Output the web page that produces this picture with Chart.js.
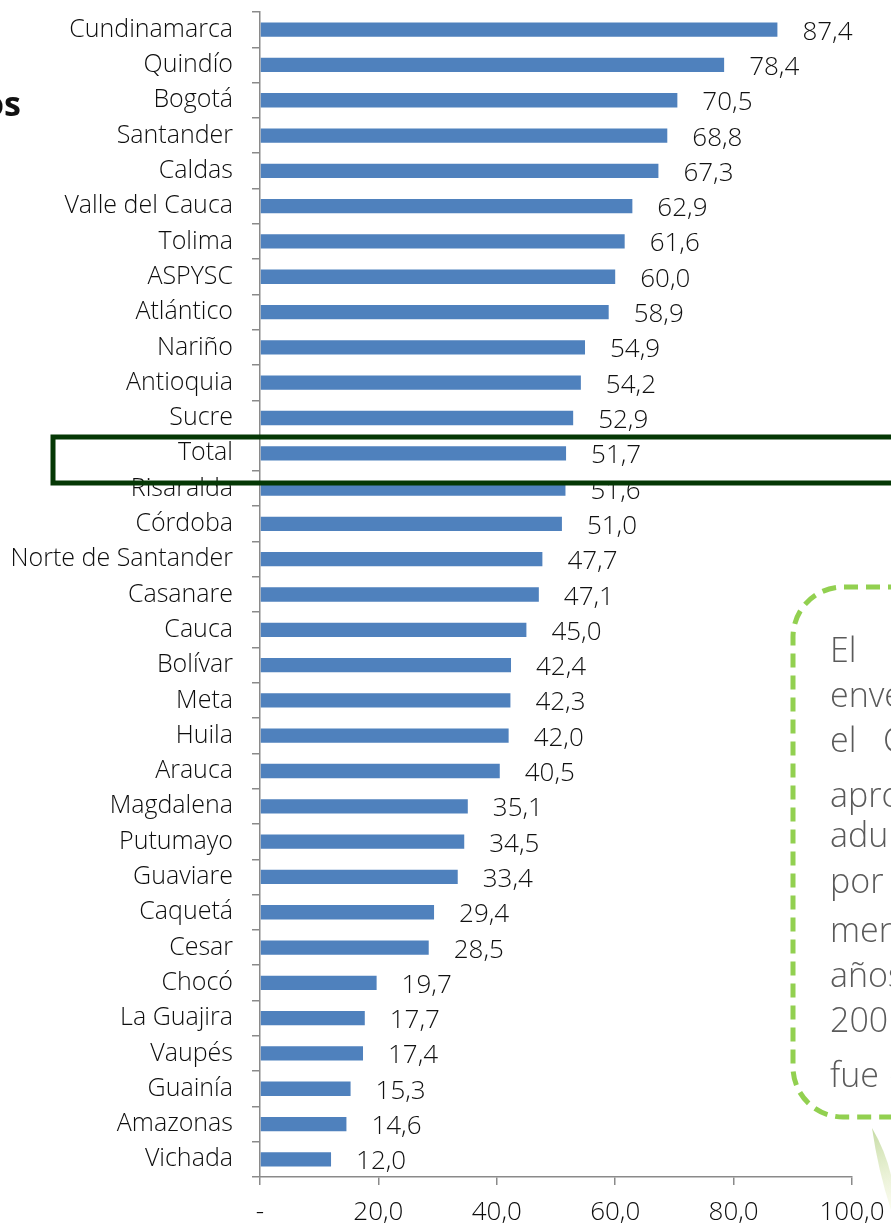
<!DOCTYPE html>
<html>
<head>
<meta charset="utf-8">
<script src="https://cdn.jsdelivr.net/npm/chart.js@4/dist/chart.umd.min.js"></script>
<style>
  html, body { margin: 0; padding: 0; background: #ffffff; }
  #wrap { position: relative; width: 891px; height: 1225px; overflow: hidden; }
  canvas { display: block; }
</style>
</head>
<body>
<div id="wrap"><canvas id="c" width="891" height="1225"></canvas></div>
<script>
const categories = [
  "Cundinamarca", "Quindío", "Bogotá", "Santander", "Caldas", "Valle del Cauca",
  "Tolima", "ASPYSC", "Atlántico", "Nariño", "Antioquia", "Sucre", "Total",
  "Risaralda", "Córdoba", "Norte de Santander", "Casanare", "Cauca", "Bolívar",
  "Meta", "Huila", "Arauca", "Magdalena", "Putumayo", "Guaviare", "Caquetá",
  "Cesar", "Chocó", "La Guajira", "Vaupés", "Guainía", "Amazonas", "Vichada"
];
const values = [
  87.4, 78.4, 70.5, 68.8, 67.3, 62.9,
  61.6, 60.0, 58.9, 54.9, 54.2, 52.9, 51.7,
  51.6, 51.0, 47.7, 47.1, 45.0, 42.4,
  42.3, 42.0, 40.5, 35.1, 34.5, 33.4, 29.4,
  28.5, 19.7, 17.7, 17.4, 15.3, 14.6, 12.0
];
const xTickValues = [0, 20, 40, 60, 80, 100];
const noteLines = [
  ["El"], ["enve"], ["el", "C"], ["apro"], ["adu"], ["por"],
  ["men"], ["años"], ["200"], ["fue", "c"]
];
const sideWord = "os";

const FONT = '"Open Sans", "DejaVu Sans", sans-serif';
const fmt = v => v === 0 ? "-" : v.toFixed(1).replace(".", ",");

const valueLabels = {
  id: "valueLabels",
  afterDatasetsDraw(chart) {
    const ctx = chart.ctx;
    const meta = chart.getDatasetMeta(0);
    ctx.save();
    ctx.font = "300 26px " + FONT;
    ctx.fillStyle = "#111111";
    ctx.textAlign = "left";
    ctx.textBaseline = "alphabetic";
    meta.data.forEach((bar, i) => {
      ctx.fillText(fmt(values[i]), bar.x + 25, bar.y + 10);
    });
    ctx.restore();
  }
};

const decorations = {
  id: "decorations",
  afterDraw(chart) {
    const ctx = chart.ctx;
    ctx.save();
    // cut-off bold word at left
    ctx.font = "bold 34px " + FONT;
    ctx.fillStyle = "#111111";
    ctx.textAlign = "right";
    ctx.textBaseline = "alphabetic";
    ctx.fillText(sideWord, 21, 116);

    // highlight rectangle around "Total"
    ctx.strokeStyle = "#053805";
    ctx.lineWidth = 5;
    ctx.strokeRect(53, 437, 900, 46);

    // dashed rounded note box
    const L = 793, T = 587, B = 1117, R = 1100, r = 50;
    ctx.beginPath();
    ctx.moveTo(R, T);
    ctx.lineTo(L + r, T);
    ctx.arcTo(L, T, L, T + r, r);
    ctx.lineTo(L, B - r);
    ctx.arcTo(L, B, L + r, B, r);
    ctx.lineTo(R, B);
    ctx.setLineDash([14, 8]);
    ctx.strokeStyle = "#92D050";
    ctx.lineWidth = 5;
    ctx.stroke();
    ctx.setLineDash([]);

    // note text (cut by the page edge)
    const baselines = [662, 707, 752, 807, 847, 893, 942, 987, 1032, 1087];
    const secondX = [0, 0, 883, 0, 0, 0, 0, 0, 0, 889];
    ctx.font = "300 34px " + FONT;
    ctx.fillStyle = "#5a5a5a";
    ctx.textAlign = "left";
    noteLines.forEach((parts, i) => {
      ctx.fillText(parts[0], 830, baselines[i]);
      if (parts[1]) ctx.fillText(parts[1], secondX[i], baselines[i]);
    });

    // faint leaf at bottom right
    const g = ctx.createLinearGradient(870, 1130, 891, 1210);
    g.addColorStop(0, "rgba(150,190,90,0.55)");
    g.addColorStop(1, "rgba(235,240,190,0.25)");
    ctx.fillStyle = g;
    ctx.beginPath();
    ctx.moveTo(872, 1128);
    ctx.quadraticCurveTo(885, 1150, 891, 1175);
    ctx.lineTo(891, 1210);
    ctx.quadraticCurveTo(878, 1170, 872, 1128);
    ctx.fill();
    ctx.restore();
  }
};

new Chart(document.getElementById("c"), {
  type: "bar",
  data: {
    labels: categories,
    datasets: [{
      data: values,
      backgroundColor: "#4F81BD",
      borderWidth: 0,
      categoryPercentage: 1.0,
      barPercentage: 0.405
    }]
  },
  options: {
    indexAxis: "y",
    responsive: false,
    animation: false,
    devicePixelRatio: 1,
    layout: { padding: { top: 12, right: 39, left: 0, bottom: 0 } },
    plugins: { legend: { display: false }, tooltip: { enabled: false }, title: { display: false } },
    scales: {
      y: {
        type: "category",
        offset: true,
        grid: {
          display: true, offset: true, drawOnChartArea: false, drawTicks: true,
          tickLength: 8, color: "#8a8a8a", lineWidth: 1.5
        },
        border: { display: true, color: "#8a8a8a", width: 1.5 },
        ticks: {
          font: { family: FONT, size: 25, weight: "300" },
          color: "#0d0d0d",
          padding: 19,
          autoSkip: false
        },
        afterFit(s) { s.width = 260; s.paddingTop = 0; s.paddingBottom = 0; }
      },
      x: {
        type: "linear",
        min: 0, max: 100,
        afterBuildTicks(s) { s.ticks = xTickValues.map(v => ({ value: v })); },
        grid: {
          display: true, drawOnChartArea: false, drawTicks: true,
          tickLength: 8, color: "#8a8a8a", lineWidth: 1.5
        },
        border: { display: true, color: "#8a8a8a", width: 1.5 },
        ticks: {
          font: { family: FONT, size: 26, weight: "300" },
          color: "#0d0d0d",
          padding: 12,
          maxRotation: 0,
          callback: v => fmt(v)
        },
        afterFit(s) { s.height = 48; s.paddingLeft = 0; s.paddingRight = 0; }
      }
    }
  },
  plugins: [valueLabels, decorations]
});
</script>
</body>
</html>
